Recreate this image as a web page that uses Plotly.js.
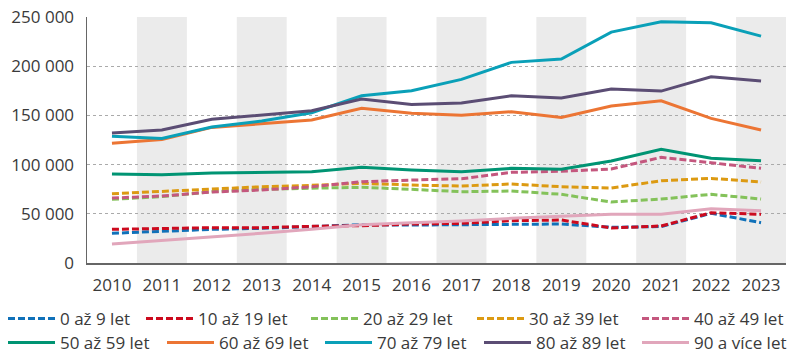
<!DOCTYPE html>
<html>
<head>
<meta charset="utf-8">
<script src="https://cdn.plot.ly/plotly-3.0.1.min.js"></script>
<style>html,body{margin:0;padding:0;background:#fff;}#chart{width:800px;height:358px;}</style>
</head>
<body>
<div id="chart"></div>
<script>
const years = [2010,2011,2012,2013,2014,2015,2016,2017,2018,2019,2020,2021,2022,2023];
const seriesNames = ["0 až 9 let","10 až 19 let","20 až 29 let","30 až 39 let","40 až 49 let",
                     "50 až 59 let","60 až 69 let","70 až 79 let","80 až 89 let","90 a více let"];
const age0_9   = [30200,32500,34200,35200,36900,38900,38600,38900,39600,39600,36300,37000,50500,41000];
const age10_19 = [34200,35200,35900,35900,37300,37900,39600,40300,43000,43700,35600,37600,51100,49500];
const age20_29 = [64700,67500,72500,74900,76000,76900,74900,72400,73200,69800,62000,65000,69800,65000];
const age30_39 = [70400,72800,75500,77500,78900,81000,79200,78200,80300,77500,76200,83600,86000,82300];
const age40_49 = [66000,68100,72100,74200,77500,82600,84300,85600,92100,93200,95500,107400,101900,96200];
const age50_59 = [90400,89700,91400,92100,92800,97200,94500,92800,96200,95200,103600,115500,106400,103900];
const age60_69 = [121600,125500,137800,141200,145300,157200,152100,150100,153700,148000,159500,164900,147000,135100];
const age70_79 = [128700,126500,138200,144300,152700,170000,175100,186600,203900,207300,234700,245200,244200,230600];
const age80_89 = [132000,135100,146000,150400,154700,166600,161200,162600,170000,167600,176800,174700,189300,184900];
const age90p   = [19300,22700,26700,30200,34200,38900,41000,42700,45400,47400,49500,49500,55200,53100];
const bandYears = [2011,2013,2015,2017,2019,2021,2023];

const seriesValues = [age0_9,age10_19,age20_29,age30_39,age40_49,age50_59,age60_69,age70_79,age80_89,age90p];
const colors = ["#1071b9","#cc0a1e","#84c25a","#dc9a12","#c4577e","#009473","#ec7534","#0aa0b8","#5b4d74","#e1a6bb"];
const dashed = [true,true,true,true,true,false,false,false,false,false];

// legend entry placement (pixels): line start x and row centre y
const legendLineX = [8,146,311,477,642, 8,167,325,484,642];
const legendRowY  = [319,319,319,319,319, 343,343,343,343,343];

const PL = 87, PR = 14, PT = 17, PB = 95, W = 800, H = 358;
const pw = W - PL - PR, ph = H - PT - PB;

const legendKey = i => i === 0 ? 'legend' : 'legend' + (i + 1);

const traces = seriesValues.map((vals,i)=>({
  type:'scatter', mode:'lines', x:years, y:vals, name:seriesNames[i],
  line:{color:colors[i], width:3, dash: dashed[i] ? '7px,3px' : 'solid'},
  legend: legendKey(i),
  hoverinfo:'skip'
}));

const shapes = bandYears.map(y=>({
  type:'rect', xref:'x', yref:'paper', x0:y-0.5, x1:y+0.5, y0:0, y1:1,
  fillcolor:'#ebebeb', line:{width:0}, layer:'below'
}));

const fontFam = '"Open Sans", "Noto Sans", sans-serif';

const layout = {
  width:W, height:H,
  margin:{l:PL, r:PR, t:PT, b:PB, autoexpand:false},
  paper_bgcolor:'#fff', plot_bgcolor:'#fff',
  separators:', ',
  font:{family:fontFam, size:17, color:'#3a3a3a'},
  showlegend:true,
  xaxis:{
    range:[2009.5,2023.5], tickvals:years, ticktext:years.map(String),
    showgrid:false, zeroline:false, showline:true, linecolor:'#666', linewidth:1.5,
    ticks:'', ticklabelstandoff:6, automargin:false,
    tickfont:{family:fontFam, size:17, color:'#3a3a3a'}
  },
  yaxis:{
    range:[0,250000], dtick:50000, tickformat:',d',
    showgrid:true, gridcolor:'#aaaaaa', gridwidth:1, griddash:'dot',
    zeroline:false, showline:true, linecolor:'#666', linewidth:1.5,
    ticks:'', ticklabelstandoff:8, automargin:false,
    tickfont:{family:fontFam, size:17, color:'#3a3a3a'}
  },
  shapes: shapes
};

seriesNames.forEach((n,i)=>{
  layout[legendKey(i)] = {
    orientation:'h', xanchor:'left', yanchor:'middle',
    x:(legendLineX[i] - 5 - PL)/pw,
    y:(H - PB - legendRowY[i])/ph,
    font:{family:fontFam, size:17, color:'#3a3a3a'}, itemwidth:47,
    bgcolor:'rgba(0,0,0,0)', borderwidth:0
  };
});

Plotly.newPlot('chart', traces, layout, {displayModeBar:false, staticPlot:true});
</script>
</body>
</html>
